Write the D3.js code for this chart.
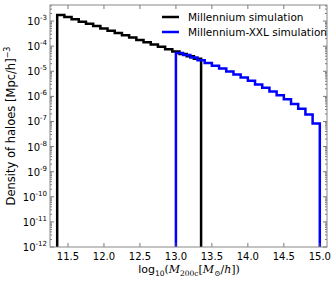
<!DOCTYPE html>
<html>
<head>
<meta charset="utf-8">
<script src="https://cdn.jsdelivr.net/npm/d3@7"></script>
<style>
  body { margin: 0; background: #fff; }
  text { font-family: "DejaVu Sans", sans-serif; fill: #000; }
</style>
</head>
<body>
<svg id="chart" width="336" height="281"></svg>
<script>
// bin left edges, bin width 0.1 dex
const millEdges = d3.range(20).map(i => +(11.35 + i * 0.1).toFixed(2))
const millValues = [1.75e-3, 1.44e-3, 1.17e-3, 9.5e-4, 7.8e-4, 6.3e-4, 5.1e-4, 4.15e-4, 3.35e-4, 2.72e-4,
    2.2e-4, 1.78e-4, 1.44e-4, 1.16e-4, 9.4e-5, 7.6e-5, 6.1e-5, 4.9e-5, 3.95e-5, 3.15e-5]

const xxlEdges = d3.range(20).map(i => +(13.0 + i * 0.1).toFixed(2))
const xxlValues = [5.4e-5, 4.4e-5, 3.5e-5, 2.75e-5, 2.15e-5, 1.66e-5, 1.29e-5, 9.8e-6, 7.4e-6, 5.6e-6,
    4.2e-6, 3.0e-6, 2.2e-6, 1.58e-6, 1.1e-6, 7.6e-7, 5.0e-7, 3.2e-7, 1.9e-7, 8.3e-8]

const xTicks = [11.5, 12.0, 12.5, 13.0, 13.5, 14.0, 14.5, 15.0]
const yExponents = [-3, -4, -5, -6, -7, -8, -9, -10, -11, -12]
const seriesNames = ['Millennium simulation', 'Millennium-XXL simulation']
const seriesColors = ['#000000', '#0000ff']

let svg = d3.select('#chart')
let plotLeft = 50, plotRight = 327, plotTop = 5, plotBottom = 247

let x = d3.scaleLinear().domain([11.25, 15.1]).range([plotLeft, plotRight])
let y = d3.scaleLog().domain([1e-12, Math.pow(10, -2.36)]).range([plotBottom, plotTop])

svg.append('defs').append('clipPath').attr('id', 'clip')
    .append('rect')
    .attr('x', plotLeft).attr('y', plotTop)
    .attr('width', plotRight - plotLeft).attr('height', plotBottom - plotTop)

let stepLine = d3.line()
    .x(d => x(d[0]))
    .y(d => y(d[1]))
    .curve(d3.curveStepAfter)

let stepPoints = (edges, values) => {
    let pts = [[edges[0], 1e-14]]
    edges.forEach((e, i) => pts.push([e, values[i]]))
    let last = +(edges[edges.length - 1] + 0.1).toFixed(2)
    pts.push([last, values[values.length - 1]])
    pts.push([last, 1e-14])
    return pts
}

let plot = svg.append('g').attr('clip-path', 'url(#clip)')

plot.append('path')
    .attr('d', stepLine(stepPoints(millEdges, millValues)))
    .attr('fill', 'none')
    .attr('stroke', seriesColors[0])
    .attr('stroke-width', 2.5)

plot.append('path')
    .attr('d', stepLine(stepPoints(xxlEdges, xxlValues)))
    .attr('fill', 'none')
    .attr('stroke', seriesColors[1])
    .attr('stroke-width', 2.5)

// ticks, inward on all sides
let ticks = svg.append('g').attr('stroke', '#555').attr('stroke-width', 0.8)

xTicks.forEach(t => {
    ticks.append('line').attr('x1', x(t)).attr('x2', x(t)).attr('y1', plotBottom).attr('y2', plotBottom - 4)
    ticks.append('line').attr('x1', x(t)).attr('x2', x(t)).attr('y1', plotTop).attr('y2', plotTop + 4)
})

yExponents.forEach(e => {
    let v = Math.pow(10, e)
    ticks.append('line').attr('x1', plotLeft).attr('x2', plotLeft + 4).attr('y1', y(v)).attr('y2', y(v))
    ticks.append('line').attr('x1', plotRight).attr('x2', plotRight - 4).attr('y1', y(v)).attr('y2', y(v))
})

// minor log ticks
d3.range(-13, -2).forEach(e => {
    d3.range(2, 10).forEach(m => {
        let v = m * Math.pow(10, e)
        if (v < y.domain()[0] || v > y.domain()[1]) return
        ticks.append('line').attr('x1', plotLeft).attr('x2', plotLeft + 2).attr('y1', y(v)).attr('y2', y(v))
        ticks.append('line').attr('x1', plotRight).attr('x2', plotRight - 2).attr('y1', y(v)).attr('y2', y(v))
    })
})

svg.append('rect')
    .attr('x', plotLeft).attr('y', plotTop)
    .attr('width', plotRight - plotLeft).attr('height', plotBottom - plotTop)
    .attr('fill', 'none')
    .attr('stroke', '#888')
    .attr('stroke-width', 1)

// tick labels
svg.append('g').selectAll('text')
    .data(xTicks)
    .enter()
    .append('text')
    .attr('x', d => x(d))
    .attr('y', plotBottom + 13)
    .attr('text-anchor', 'middle')
    .attr('font-size', 10)
    .text(d => d.toFixed(1))

let yLabels = svg.append('g').selectAll('text')
    .data(yExponents)
    .enter()
    .append('text')
    .attr('x', plotLeft - 3)
    .attr('y', d => y(Math.pow(10, d)) + 4)
    .attr('text-anchor', 'end')
    .attr('font-size', 10)

yLabels.append('tspan').text('10')
yLabels.append('tspan')
    .attr('dy', -5)
    .attr('font-size', 7)
    .text(d => '-' + Math.abs(d))

// axis titles
let serif = 'DejaVu Serif, serif'
let xTitle = svg.append('text')
    .attr('x', 189)
    .attr('y', 273)
    .attr('text-anchor', 'middle')
    .attr('font-size', 11)
xTitle.append('tspan').text('log')
xTitle.append('tspan').attr('font-size', 7.5).attr('dy', 3).text('10')
xTitle.append('tspan').attr('dy', -3).attr('font-family', serif).text('(')
xTitle.append('tspan').attr('font-family', serif).attr('font-style', 'italic').text('M')
xTitle.append('tspan').attr('font-family', serif).attr('font-size', 7.5).attr('dy', 3).text('200c')
xTitle.append('tspan').attr('font-family', serif).attr('dy', -3).text('[')
xTitle.append('tspan').attr('font-family', serif).attr('font-style', 'italic').text('M')
xTitle.append('tspan').attr('font-family', serif).attr('font-size', 7.5).attr('dy', 3).text('\u2299')
xTitle.append('tspan').attr('font-family', serif).attr('dy', -3).text('/')
xTitle.append('tspan').attr('font-family', serif).attr('font-style', 'italic').text('h')
xTitle.append('tspan').attr('font-family', serif).text('])')

let yTitle = svg.append('text')
    .attr('transform', 'translate(15,' + ((plotTop + plotBottom) / 2) + ') rotate(-90)')
    .attr('text-anchor', 'middle')
    .attr('font-size', 11.5)
yTitle.append('tspan').text('Density of haloes [Mpc/h]')
yTitle.append('tspan').attr('dy', -5).attr('font-size', 8).text('\u22123')

// legend
let legend = svg.append('g')
seriesNames.forEach((name, i) => {
    let ly = 17 + i * 15
    legend.append('line')
        .attr('x1', 162).attr('x2', 179)
        .attr('y1', ly).attr('y2', ly)
        .attr('stroke', seriesColors[i])
        .attr('stroke-width', 2.5)
    legend.append('text')
        .attr('x', 188)
        .attr('y', ly + 3.5)
        .attr('font-size', 10.5)
        .text(name)
})
</script>
</body>
</html>
